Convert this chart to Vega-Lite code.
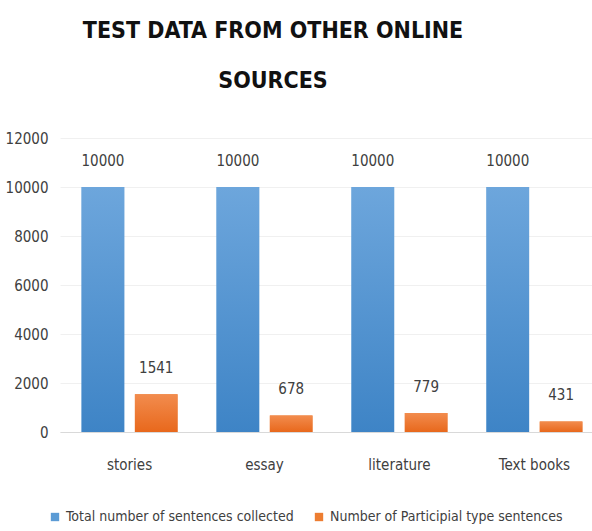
{
  "$schema": "https://vega.github.io/schema/vega-lite/v6.json",
  "autosize": "none",
  "width": 544,
  "height": 294,
  "padding": {"left": 60, "top": 138, "right": 0, "bottom": 99},
  "background": "white",
  "title": {
    "text": ["TEST DATA FROM OTHER ONLINE", "SOURCES"],
    "font": "DejaVu Sans Condensed",
    "fontSize": 23,
    "fontWeight": "bold",
    "lineHeight": 50,
    "color": "#111111",
    "anchor": "middle",
    "dx": -59,
    "offset": 38
  },
  "data": {
    "values": [
      {"cat": "stories", "series": "Total number of sentences collected", "value": 10000},
      {"cat": "stories", "series": "Number of Participial type sentences", "value": 1541},
      {"cat": "essay", "series": "Total number of sentences collected", "value": 10000},
      {"cat": "essay", "series": "Number of Participial type sentences", "value": 678},
      {"cat": "literature", "series": "Total number of sentences collected", "value": 10000},
      {"cat": "literature", "series": "Number of Participial type sentences", "value": 779},
      {"cat": "Text books", "series": "Total number of sentences collected", "value": 10000},
      {"cat": "Text books", "series": "Number of Participial type sentences", "value": 431}
    ]
  },
  "encoding": {
    "x": {
      "field": "cat", "type": "nominal", "sort": null,
      "scale": {"paddingInner": 0.289, "paddingOuter": 0.16},
      "axis": {"title": null, "labelAngle": 0, "labelFont": "DejaVu Sans Condensed", "labelFontSize": 15, "labelColor": "#404040", "labelPadding": 25, "ticks": false, "domainColor": "#d9d9d9", "domainWidth": 1}
    },
    "xOffset": {
      "field": "series", "type": "nominal",
      "sort": ["Total number of sentences collected", "Number of Participial type sentences"],
      "scale": {"paddingInner": 0.2, "paddingOuter": 0}
    },
    "y": {
      "field": "value", "type": "quantitative",
      "scale": {"domain": [0, 12000]},
      "axis": {"title": null, "values": [0, 2000, 4000, 6000, 8000, 10000, 12000], "format": "d", "labelOverlap": false, "labelFont": "DejaVu Sans Condensed", "labelFontSize": 15, "labelColor": "#404040", "labelPadding": 12, "ticks": false, "domain": false, "gridColor": "#f0f0f0", "gridWidth": 1}
    }
  },
  "layer": [
    {
      "mark": {"type": "bar"},
      "encoding": {
        "color": {
          "field": "series", "type": "nominal",
          "sort": ["Total number of sentences collected", "Number of Participial type sentences"],
          "scale": {"domain": ["Total number of sentences collected", "Number of Participial type sentences"], "range": ["#5b9bd5", "#ed7d31"]},
          "legend": {
            "title": null, "orient": "none", "direction": "horizontal",
            "legendX": -12, "legendY": 372,
            "symbolType": "square", "symbolSize": 70, "symbolStrokeWidth": 0,
            "labelFont": "DejaVu Sans Condensed", "labelFontSize": 14, "labelColor": "#404040",
            "columnPadding": 18, "labelOffset": 4, "labelLimit": 400
          }
        }
      }
    },
    {
      "mark": {"type": "bar"},
      "encoding": {
        "fill": {
          "condition": {
            "test": "datum.series === 'Total number of sentences collected'",
            "value": {"gradient": "linear", "x1": 0, "y1": 0, "x2": 0, "y2": 1, "stops": [{"offset": 0, "color": "#6da6dc"}, {"offset": 1, "color": "#3e84c6"}]}
          },
          "value": {"gradient": "linear", "x1": 0, "y1": 0, "x2": 0, "y2": 1, "stops": [{"offset": 0, "color": "#f28c4e"}, {"offset": 1, "color": "#e8681c"}]}
        }
      }
    },
    {
      "mark": {"type": "text", "baseline": "bottom", "dy": -18, "font": "DejaVu Sans Condensed", "fontSize": 15, "color": "#404040"},
      "encoding": {"text": {"field": "value", "type": "quantitative", "format": "d"}}
    }
  ],
  "config": {"view": {"stroke": null}}
}
